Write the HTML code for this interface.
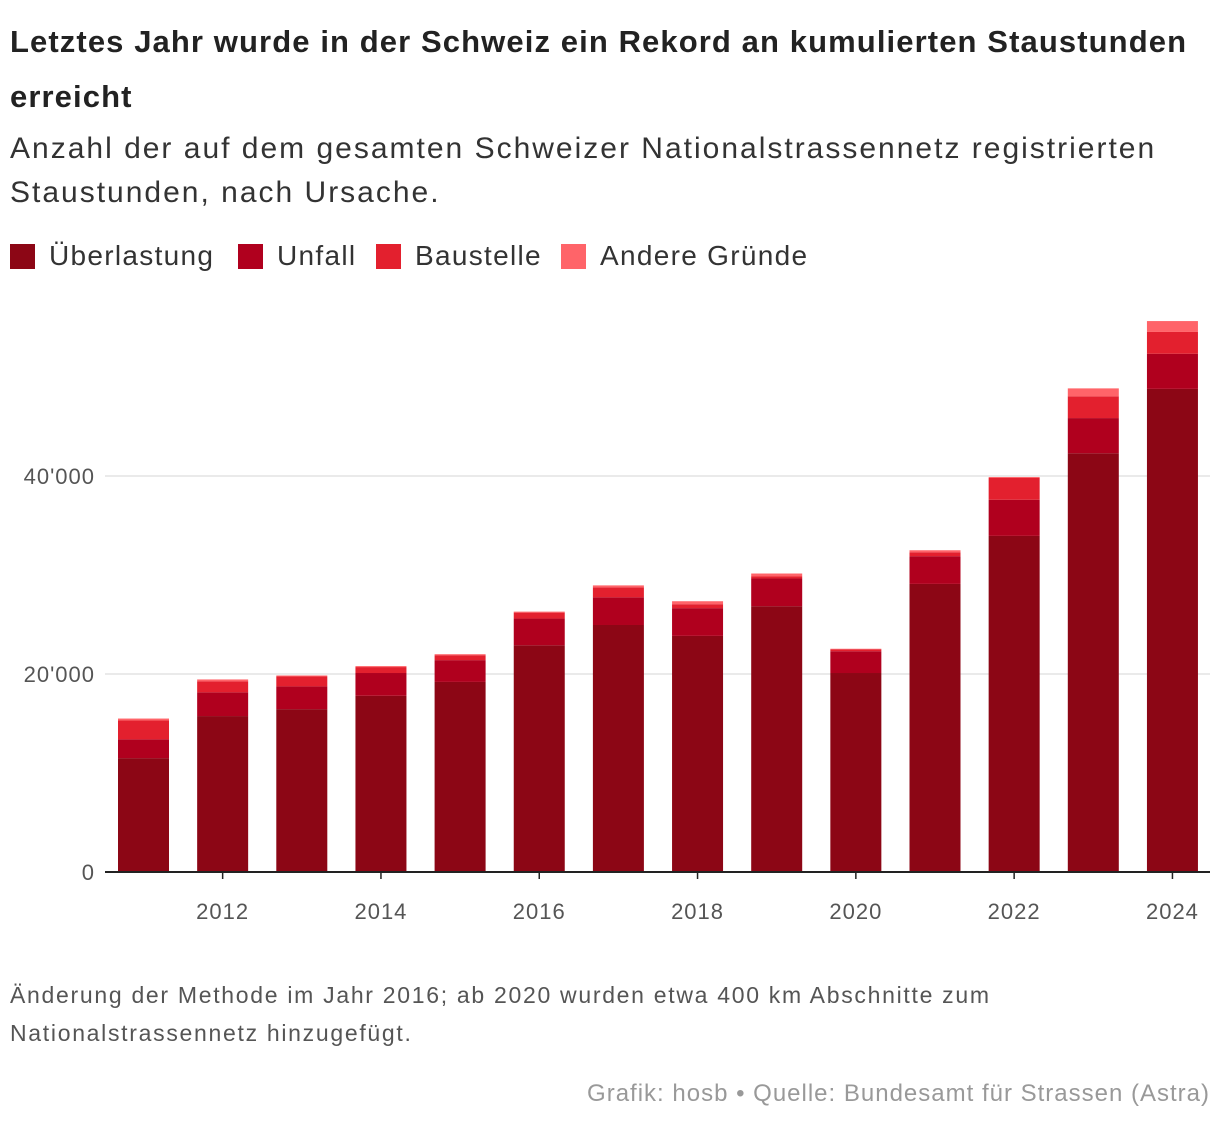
<!DOCTYPE html>
<html><head><meta charset="utf-8"><style>
body{margin:0;background:#fff;width:1220px;height:1128px;overflow:hidden;font-family:"Liberation Sans",sans-serif;color:#222}
.t{position:absolute;left:10px;white-space:nowrap}
</style></head><body>
<div class="t" style="top:14px;font-size:31px;font-weight:bold;line-height:55px;color:#222;letter-spacing:1.1px">Letztes Jahr wurde in der Schweiz ein Rekord an kumulierten Staustunden<br>erreicht</div>
<div class="t" style="top:127px;font-size:30px;line-height:44px;color:#333;letter-spacing:2px">Anzahl der auf dem gesamten Schweizer Nationalstrassennetz registrierten<br>Staustunden, nach Ursache.</div>
<div style="position:absolute;left:10px;top:240px;font-size:28px;color:#333;white-space:nowrap;letter-spacing:1.3px">
<span style="position:absolute;left:0;top:0"><i style="display:inline-block;width:25px;height:25px;background:#8c0615;vertical-align:-4px;margin-right:14px"></i>Überlastung</span>
<span style="position:absolute;left:228px;top:0"><i style="display:inline-block;width:25px;height:25px;background:#b0001e;vertical-align:-4px;margin-right:14px"></i>Unfall</span>
<span style="position:absolute;left:366px;top:0"><i style="display:inline-block;width:25px;height:25px;background:#e3202e;vertical-align:-4px;margin-right:14px"></i>Baustelle</span>
<span style="position:absolute;left:551px;top:0"><i style="display:inline-block;width:25px;height:25px;background:#ff6469;vertical-align:-4px;margin-right:14px"></i>Andere Gründe</span>
</div>
<svg id="chart" width="1220" height="1128" style="position:absolute;left:0;top:0"></svg>
<div class="t" style="top:976px;font-size:23px;line-height:38px;color:#555;letter-spacing:1.7px">Änderung der Methode im Jahr 2016; ab 2020 wurden etwa 400 km Abschnitte zum<br>Nationalstrassennetz hinzugefügt.</div>
<div style="position:absolute;right:10px;top:1080px;font-size:24px;color:#999;white-space:nowrap;letter-spacing:1px">Grafik: hosb • Quelle: Bundesamt für Strassen (Astra)</div>
<script>
const years=[2011,2012,2013,2014,2015,2016,2017,2018,2019,2020,2021,2022,2023,2024];
const ueberlastung=[11500,15750,16450,17800,19200,22900,24950,23850,26850,20100,29100,33950,42300,48800];
const unfall=[1900,2400,2300,2300,2200,2700,2800,2800,2800,2200,2800,3650,3550,3550];
const baustelle=[1900,1100,1000,600,500,600,1000,400,200,200,400,2200,2200,2200];
const andere=[200,200,100,100,100,100,200,300,300,50,200,100,800,1100];
const yTicks=[0,20000,40000];
const yTickLabels=["0","20'000","40'000"];
const xTicks=[2012,2014,2016,2018,2020,2022,2024];
const ns="http://www.w3.org/2000/svg",svg=document.getElementById('chart');
const y0=872,pxPer=198/20000;
const yS=v=>y0-v*pxPer;
const xS=yr=>143.5+(yr-2011)*79.15;
const bw=51;
function mk(tag,attrs){const e=document.createElementNS(ns,tag);for(const k in attrs)e.setAttribute(k,attrs[k]);svg.appendChild(e);return e;}
yTicks.forEach((v,i)=>{
 if(v>0){const g=mk('line',{x1:105,x2:1210,y1:yS(v),y2:yS(v),stroke:'#e3e3e3','stroke-width':1.5});
 
 }
 const t=mk('text',{x:95,y:yS(v)+8,'text-anchor':'end','font-size':22,fill:'#555','font-family':'Liberation Sans, sans-serif','letter-spacing':1});
 t.textContent=yTickLabels[i];
 
 
});
const series=[[ueberlastung,'#8c0615','ueberlastung'],[unfall,'#b0001e','unfall'],[baustelle,'#e3202e','baustelle'],[andere,'#ff6469','andere']];
years.forEach((yr,i)=>{
 let acc=0;
 series.forEach(([arr,col,nm])=>{
  const v=arr[i];
  const r=mk('rect',{x:xS(yr)-bw/2,y:yS(acc+v),width:bw,height:v*pxPer,fill:col});
  
  
  acc+=v;
 });
});
const ax=mk('line',{x1:105,x2:1210,y1:y0,y2:y0,stroke:'#222','stroke-width':2});


xTicks.forEach(yr=>{
 const tk=mk('line',{x1:xS(yr),x2:xS(yr),y1:y0,y2:y0+7,stroke:'#222','stroke-width':1.5});
 
 
 const t=mk('text',{x:xS(yr),y:919,'text-anchor':'middle','font-size':22,fill:'#555','font-family':'Liberation Sans, sans-serif','letter-spacing':1});
 t.textContent=yr;
 
 
});
</script>
</body></html>
